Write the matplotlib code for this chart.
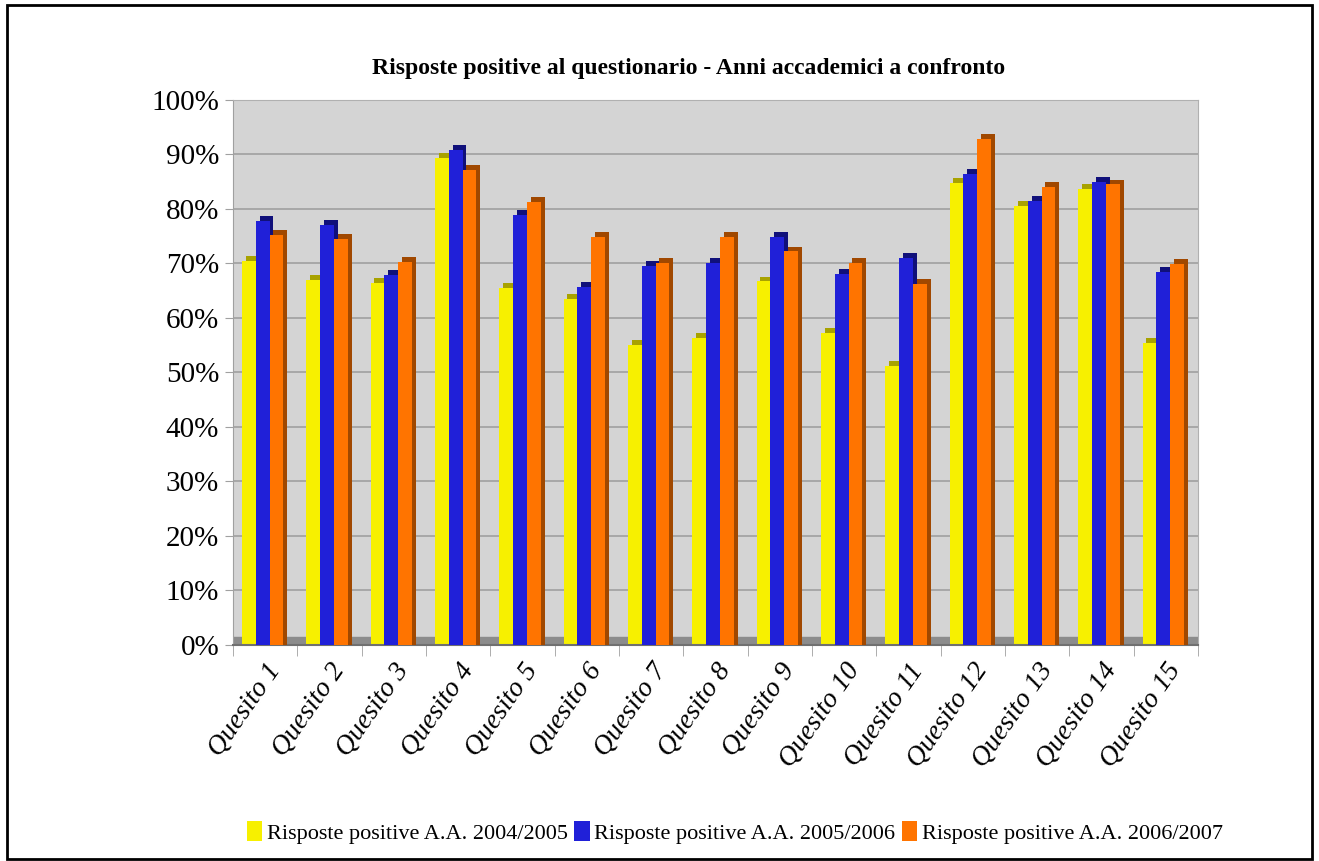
import numpy as np
import matplotlib
matplotlib.use('Agg')
import matplotlib.pyplot as plt
from matplotlib.patches import Rectangle
from matplotlib.ticker import FixedLocator

plt.rcParams['font.family'] = ['Liberation Serif', 'DejaVu Serif']

# dati (percentuali)
quesiti = ['Quesito %d' % i for i in range(1, 16)]
serie_nomi = ['Risposte positive A.A. 2004/2005',
              'Risposte positive A.A. 2005/2006',
              'Risposte positive A.A. 2006/2007']
aa_2004_05 = [70.5, 67.0, 66.4, 89.3, 65.5, 63.5, 55.0, 56.3, 66.7, 57.3, 51.2, 84.8, 80.5, 83.7, 55.4]
aa_2005_06 = [77.8, 77.0, 67.9, 90.8, 78.9, 65.7, 69.5, 70.1, 74.9, 68.1, 71.0, 86.4, 81.5, 85.0, 68.5]
aa_2006_07 = [75.2, 74.5, 70.3, 87.2, 81.3, 74.9, 70.1, 74.9, 72.2, 70.1, 66.2, 92.8, 84.0, 84.5, 69.9]

colori = ['#f7f000', '#2020d8', '#ff7400']
colori_lato = ['#a8a200', '#10107a', '#a04800']

fig = plt.figure(figsize=(13.19, 8.61), dpi=100)
fig.patch.set_facecolor('white')
ax = fig.add_axes([0.1767, 0.2509, 0.7316, 0.633])
ax.set_facecolor('#d4d4d4')

x = np.arange(len(quesiti))
w = 0.215
serie = [aa_2004_05, aa_2005_06, aa_2006_07]

# pavimento grigio
ax.axhspan(0, 1.4, color='#8c8c8c', zorder=1)

for i, (vals, c, cl) in enumerate(zip(serie, colori, colori_lato)):
    pos = x + (i - 1) * w - 0.04
    # lato in ombra (effetto 3D)
    ax.bar(pos + 0.06, np.array(vals) + 0.9, width=w, color=cl, zorder=2 + i)
    ax.bar(pos, vals, width=w, color=c, zorder=2.5 + i, label=serie_nomi[i])

ax.set_xlim(-0.5, len(quesiti) - 0.5)
ax.set_ylim(0, 100)
ax.set_yticks(np.arange(0, 101, 10))
ax.set_yticklabels(['%d%%' % v for v in range(0, 101, 10)], fontsize=21)
ax.yaxis.grid(True, color='#a0a0a0', linewidth=1.2, zorder=0)
ax.set_axisbelow(True)

ax.set_xticks(x)
ax.set_xticklabels(quesiti, rotation=55, ha='right', rotation_mode='anchor',
                   fontsize=20, style='italic')
ax.tick_params(axis='x', length=0, pad=10)
ax.xaxis.set_minor_locator(FixedLocator(np.arange(-0.5, len(quesiti), 1)))
ax.tick_params(axis='x', which='minor', length=8, color='#a0a0a0')
ax.tick_params(axis='y', length=6, color='#a0a0a0', pad=4)

for s in ['top', 'right']:
    ax.spines[s].set_color('#b0b0b0')
ax.spines['left'].set_color('#a0a0a0')
ax.spines['bottom'].set_color('#707070')
ax.spines['bottom'].set_linewidth(1.5)

fig.text(0.522, 0.921, 'Risposte positive al questionario - Anni accademici a confronto',
         ha='center', va='center', fontsize=17, fontweight='bold')

fig.legend(loc='center', bbox_to_anchor=(0.557, 0.033), ncol=3, frameon=False,
           fontsize=16, handlelength=0.7, handleheight=1.0, handletextpad=0.2,
           columnspacing=0.3)

# cornice esterna
fig.patches.append(Rectangle((0.005, 0.002), 0.99, 0.992, transform=fig.transFigure,
                             fill=False, edgecolor='black', linewidth=2))

plt.savefig('out.png', dpi=100)
